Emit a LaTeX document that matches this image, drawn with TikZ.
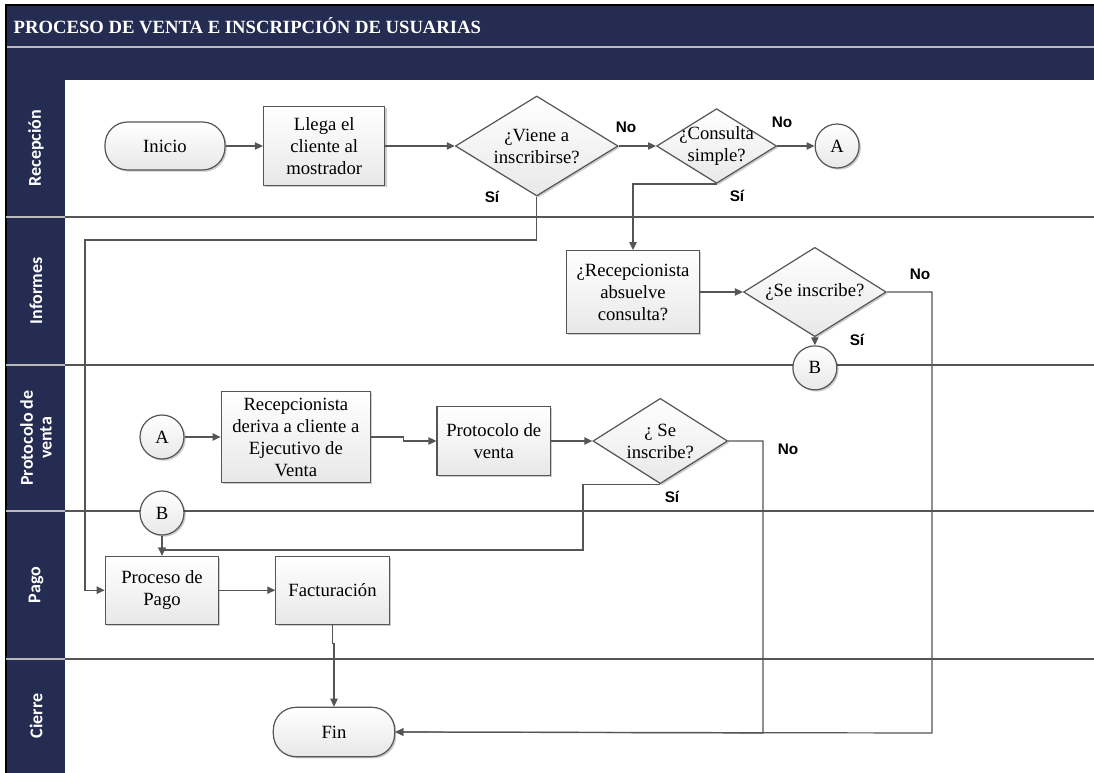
\documentclass[tikz,border=0pt]{standalone}
\usepackage{fontspec}
\setmainfont{Liberation Serif}
\newfontfamily\lanefont{Carlito}
\newfontfamily\tagfont{Liberation Sans}
\usetikzlibrary{%
	arrows.meta,%
	calc,%
	positioning,%
	shapes.geometric,%
	shadows,%
}
\definecolor{cnavy}{RGB}{37, 44, 82}
\definecolor{cline}{RGB}{85, 85, 85}
\definecolor{cfill}{RGB}{232, 232, 232}
\newcommand{\flowfont}{\fontsize{14}{16.5}\selectfont}
\tikzset{
	>={Triangle[length=6pt,width=5.5pt]},%
	nodes={align=center},%
	boxshadow/.style={%
			drop shadow={shadow xshift=1.3pt, shadow yshift=-1.3pt, opacity=0.2, fill=black}},%
	proc/.style={%
			rectangle,%
			draw=cline,%
			line width=0.9pt,%
			top color=white,%
			bottom color=cfill,%
			boxshadow,%
			inner sep=1pt},%
	term/.style={%
			proc,%
			rounded corners=17pt,%
			minimum width=90pt,%
			minimum height=36pt},%
	decis/.style={%
			diamond,%
			draw=cline,%
			line width=0.9pt,%
			top color=white,%
			bottom color=cfill,%
			boxshadow,%
			inner sep=0pt},%
	conn/.style={%
			circle,%
			draw=cline,%
			line width=0.9pt,%
			top color=white,%
			bottom color=cfill,%
			boxshadow,%
			minimum size=33pt,%
			inner sep=0pt},%
	flow/.style={draw=cline, line width=0.9pt, ->},%
	tag/.style={font=\tagfont\bfseries\fontsize{11.5}{12}\selectfont, inner sep=1pt},%
	lanename/.style={font=\lanefont\bfseries\fontsize{13.5}{14}\selectfont, text=white, rotate=90},%
	laneline/.style={draw=cline, line width=1pt},%
	lanesep/.style={draw=gray!55, line width=0.8pt},%
}

\begin{document}
\begin{tikzpicture}[x=0.75pt, y=-0.75pt, nodes={font=\flowfont}]
	\useasboundingbox (0,0) rectangle (1094,773);

	% title band and lane column
	\fill[cnavy] (6,5) rectangle (1094,80);
	\draw[lanesep] (6,47) -- (1094,47);
	\fill[cnavy] (6,80) rectangle (65,773);
	\draw[black, line width=1.2pt] (6,773) -- (6,5) -- (1094,5);
	\node[anchor=west, text=white, font=\bfseries\fontsize{14}{15}\selectfont] (title) at (9,26) {PROCESO DE VENTA E INSCRIPCIÓN DE USUARIAS};

	% lanes
	\draw[laneline] (65,217) -- (1094,217);
	\draw[laneline] (65,365) -- (1094,365);
	\draw[laneline] (65,511) -- (1094,511);
	\draw[laneline] (65,659) -- (1094,659);
	\draw[lanesep] (6,217) -- (65,217);
	\draw[lanesep] (6,365) -- (65,365);
	\draw[lanesep] (6,511) -- (65,511);
	\draw[lanesep] (6,659) -- (65,659);
	\node[lanename] (lrec) at (36,148) {Recepción};
	\node[lanename] (linf) at (36,291) {Informes};
	\node[lanename] (lpro) at (36,438) {Protocolo de\\venta};
	\node[lanename] (lpag) at (36,585) {Pago};
	\node[lanename] (lcie) at (36,716) {Cierre};

	% recepcion
	\node[term] (inicio) at (165,146) {Inicio};
	\node[proc, minimum width=91pt, minimum height=59pt] (llega) [right=28pt of inicio] {Llega el\\cliente al\\mostrador};
	\node[decis, minimum width=122pt, minimum height=75pt, aspect=1.63] (viene) [right=52pt of llega] {¿Viene a\\inscribirse?};
	\node[decis, minimum width=90pt, minimum height=56pt, aspect=1.62, inner sep=-4pt] (consulta) [right=28pt of viene] {¿Consulta\\simple?};
	\node[conn] (ca) [right=28pt of consulta] {A};

	% informes
	\node[proc, minimum width=100pt, minimum height=62pt] (absuelve) at (633,292) {¿Recepcionista\\absuelve\\consulta?};
	\node[decis, minimum width=107pt, minimum height=67pt, aspect=1.6] (inscribe) [right=32pt of absuelve] {¿Se inscribe?};
	\node[conn] (cb) [below=6pt of inscribe] {B};

	% protocolo de venta
	\node[conn] (ca2) at (162,437) {A};
	\node[proc, minimum width=112pt, minimum height=68pt, inner sep=0pt] (deriva) [right=27pt of ca2] {Recepcionista\\deriva a cliente a\\Ejecutivo de\\Venta};
	\node[proc, minimum width=85pt, minimum height=52pt] (protocolo) [right=49pt of deriva, yshift=-3pt] {Protocolo de\\venta};
	\node[decis, minimum width=101pt, minimum height=64pt, aspect=1.58] (inscribe2) [right=31pt of protocolo] {¿ Se\\inscribe?};

	% pago
	\node[conn] (cb2) at (162,513) {B};
	\node[proc, minimum width=85pt, minimum height=51pt] (pago) [below=15pt of cb2] {Proceso de\\Pago};
	\node[proc, minimum width=85pt, minimum height=51pt] (factura) [right=42pt of pago] {Facturación};

	% cierre
	\node[term, minimum width=91pt, minimum height=37pt] (fin) at (334,732) {Fin};

	% answers
	\node[tag] (si1) at (492,197) {Sí};
	\node[tag] (no1) at (626,127) {No};
	\node[tag] (no2) at (782,122) {No};
	\node[tag] (si2) at (737,196) {Sí};
	\node[tag] (no3) at (920,274) {No};
	\node[tag] (si3) at (857,340) {Sí};
	\node[tag] (no4) at (788,449) {No};
	\node[tag] (si4) at (672,497) {Sí};

	\coordinate (sibend) at (85,240);
	\coordinate (sibend2) at (583,550);
	\coordinate (nofin) at (932,733);
	\coordinate (nofin2) at (763,733);

	\draw[flow] (inicio) -- (llega);
	\draw[flow] (llega) -- (viene);
	\draw[flow] (viene) -- (consulta);
	\draw[flow] (consulta) -- (ca);
	\draw[flow] (consulta.south) -| (absuelve.north);
	\draw[flow] (viene.south) |- (sibend) |- (pago.west);
	\draw[flow] (absuelve) -- (inscribe);
	\draw[flow] (inscribe) -- (cb);
	\draw[flow] (inscribe.east) -| (nofin) -- (fin.east);
	\draw[flow] (ca2) -- (deriva);
	\draw[flow] (deriva.east) -- ($(deriva.east)!0.5!(protocolo.west |- deriva.east)$) |- (protocolo.west);
	\draw[flow] (protocolo) -- (inscribe2);
	\draw[flow] (inscribe2.south) -| (sibend2) -| (pago.north);
	\draw[flow] (inscribe2.east) -| (nofin2) -- (fin.east);
	\draw[flow] (cb2) -- (pago);
	\draw[flow] (pago) -- (factura);
	\draw[flow] (factura.south) -- ++(0,19) -| (fin.north);
\end{tikzpicture}
\end{document}
